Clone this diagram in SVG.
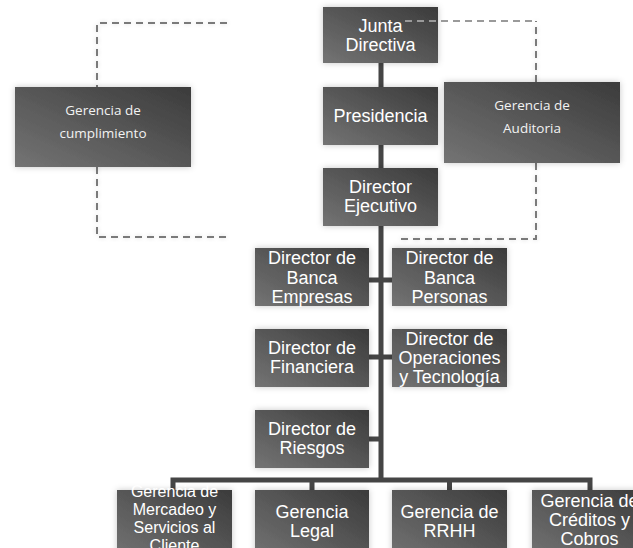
<svg xmlns="http://www.w3.org/2000/svg" width="633" height="548" viewBox="0 0 633 548">
<defs>
<linearGradient id="g" x1="1" y1="0" x2="0" y2="1">
<stop offset="0" stop-color="#3b3b3b"/>
<stop offset="1" stop-color="#747474"/>
</linearGradient>
<filter id="glow" x="-20%" y="-20%" width="140%" height="140%">
<feDropShadow dx="0" dy="0" stdDeviation="3" flood-color="#000" flood-opacity="0.22"/>
</filter>
<filter id="dglow" x="-10%" y="-10%" width="120%" height="120%">
<feDropShadow dx="0" dy="0" stdDeviation="2" flood-color="#000" flood-opacity="0.15"/>
</filter>
</defs>
<style>
.box{fill:url(#g);filter:url(#glow)}
.t{font-family:"Liberation Sans",Arial,sans-serif;font-size:18px;fill:#fff;text-anchor:middle}
.s{font-size:16px}
.c{font-family:"Open Sans","Noto Sans",sans-serif;font-size:13.5px;fill:#f2f2f2;text-anchor:middle}
.ln{stroke:#454545;stroke-width:5;fill:none}
.dash{stroke:#7a7a7a;stroke-width:2;stroke-dasharray:7 5;fill:none;filter:url(#dglow)}
</style>
<rect width="633" height="548" fill="#fff"/>
<g id="connectors">
<path class="ln" d="M381,63 V480"/>
<path class="ln" d="M369,280 H392 M369,357 H392 M369,439 H381"/>
<path class="ln" d="M173,490 V480 H590 V490 M312,480 V490 M449.5,480 V490"/>
<path class="dash" d="M227,23 H97 V87 M97,167 V237 H227"/>
<path class="dash" d="M536,82 V21 M536,163 V239 H400"/>
</g>
<g id="junta"><rect class="box" x="323" y="7" width="115" height="56"/>
<path class="dash" d="M405,21 H536" style="filter:none;stroke:#9a9a9a"/>
<text class="t" x="380.5" y="32">Junta</text><text class="t" x="380.5" y="51">Directiva</text></g>
<g id="presidencia"><rect class="box" x="323" y="87" width="115" height="58"/>
<text class="t" x="380.5" y="122">Presidencia</text></g>
<g id="ejecutivo"><rect class="box" x="323" y="168" width="115" height="58"/>
<text class="t" x="380.5" y="193">Director</text><text class="t" x="380.5" y="212">Ejecutivo</text></g>
<g id="cumplimiento"><rect class="box" x="15" y="87" width="176" height="80"/>
<text class="c" x="103" y="115">Gerencia de</text><text class="c" x="103" y="138">cumplimiento</text></g>
<g id="auditoria"><rect class="box" x="444" y="82" width="176" height="81"/>
<text class="c" x="532" y="110">Gerencia de</text><text class="c" x="532" y="133">Auditoria</text></g>
<g id="banca-empresas"><rect class="box" x="255" y="248" width="114" height="58"/>
<text class="t" x="312" y="264">Director de</text><text class="t" x="312" y="283.5">Banca</text><text class="t" x="312" y="303">Empresas</text></g>
<g id="banca-personas"><rect class="box" x="392" y="248" width="115" height="58"/>
<text class="t" x="449.5" y="264">Director de</text><text class="t" x="449.5" y="283.5">Banca</text><text class="t" x="449.5" y="303">Personas</text></g>
<g id="financiera"><rect class="box" x="255" y="329" width="114" height="58"/>
<text class="t" x="312" y="354">Director de</text><text class="t" x="312" y="373">Financiera</text></g>
<g id="operaciones"><rect class="box" x="392" y="329" width="115" height="58"/>
<text class="t" x="449.5" y="345">Director de</text><text class="t" x="449.5" y="364">Operaciones</text><text class="t" x="449.5" y="383">y Tecnología</text></g>
<g id="riesgos"><rect class="box" x="255" y="410" width="114" height="58"/>
<text class="t" x="312" y="435">Director de</text><text class="t" x="312" y="454">Riesgos</text></g>
<g id="mercadeo"><rect class="box" x="117" y="490" width="115" height="70"/>
<text class="t s" x="174.5" y="497">Gerencia de</text><text class="t s" x="174.5" y="515">Mercadeo y</text><text class="t s" x="174.5" y="533">Servicios al</text><text class="t s" x="174.5" y="551">Cliente</text></g>
<g id="legal"><rect class="box" x="255" y="490" width="114" height="70"/>
<text class="t" x="312" y="518">Gerencia</text><text class="t" x="312" y="537">Legal</text></g>
<g id="rrhh"><rect class="box" x="392" y="490" width="115" height="70"/>
<text class="t" x="449.5" y="518">Gerencia de</text><text class="t" x="449.5" y="537">RRHH</text></g>
<g id="creditos"><rect class="box" x="532" y="490" width="115" height="70"/>
<text class="t" x="589.5" y="507">Gerencia de</text><text class="t" x="589.5" y="526">Créditos y</text><text class="t" x="589.5" y="545">Cobros</text></g>
</svg>
